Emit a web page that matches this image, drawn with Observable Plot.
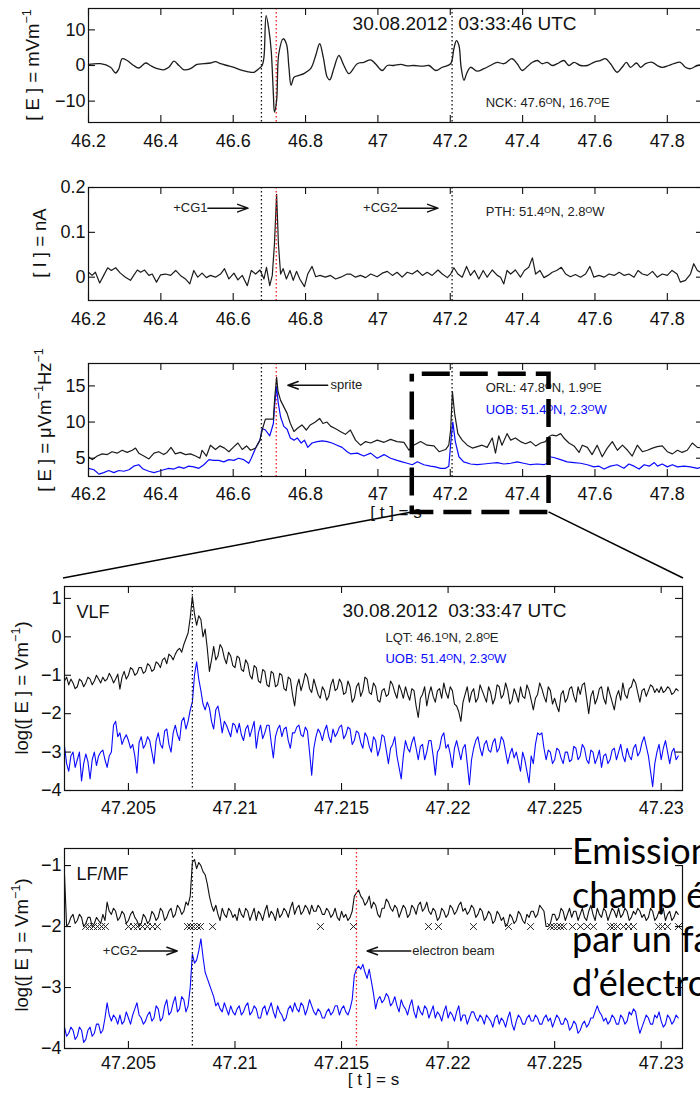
<!DOCTYPE html>
<html>
<head>
<meta charset="utf-8">
<script src="https://cdn.jsdelivr.net/npm/d3@7"></script>
<script src="https://cdn.jsdelivr.net/npm/@observablehq/plot@0.6"></script>
<style>
  html, body { margin: 0; padding: 0; width: 700px; height: 1099px; overflow: hidden; background: #fff; }
  #page { position: relative; width: 700px; height: 1099px; overflow: hidden; font-family: "Liberation Sans", Arial, sans-serif; color: #111; }
  .ylab { position: absolute; white-space: nowrap; font-size: 18.5px; line-height: 1; color: #111;
          transform: translate(-50%, -50%) rotate(-90deg); }
  .ylab sup { font-size: 0.68em; vertical-align: 0; position: relative; top: -0.6em; line-height: 0; }
  #mask { position: absolute; left: 572px; top: 840px; width: 128px; height: 25px; background: #fff; z-index: 9; }
  #note { position: absolute; left: 572px; top: 828px; z-index: 10; font-family: Lato, "Open Sans", sans-serif;
          font-size: 36px; line-height: 44px; color: #000; white-space: nowrap; }
</style>
</head>
<body>
<div id="page">
  <div class="ylab" style="left:33px; top:65px">[ E ] = mVm<sup>−1</sup></div>
  <div class="ylab" style="left:40px; top:243px">[ I ] = nA</div>
  <div class="ylab" style="left:45px; top:420px">[ E ] = μVm<sup>−1</sup>Hz<sup>−1</sup></div>
  <div class="ylab" style="left:22px; top:688px">log([ E ] = Vm<sup>−1</sup>)</div>
  <div class="ylab" style="left:22px; top:945px">log([ E ] = Vm<sup>−1</sup>)</div>
  <div id="mask"></div>
  <div id="note">Emission du<br>champ électrique<br>par un faisceau<br>d’électrons</div>
</div>
<script>
// ---------- Tick values ----------
const coarseTicks = [46.2, 46.4, 46.6, 46.8, 47, 47.2, 47.4, 47.6, 47.8];
const fineTicks = [47.205, 47.21, 47.215, 47.22, 47.225, 47.23];
const nckTicks = [-10, 0, 10];
const pthTicks = [0, 0.1, 0.2];
const orlTicks = [5, 10, 15];
const vlfTicks = [-4, -3, -2, -1, 0, 1];
const lfTicks = [-4, -3, -2, -1];

// ---------- NCK vertical electric field (mV/m) ----------
const nckT = [46.200,46.233,46.261,46.275,46.284,46.293,46.307,46.325,46.339,46.358,
  46.371,46.390,46.408,46.422,46.436,46.450,46.464,46.482,46.500,46.519,
  46.537,46.551,46.565,46.583,46.602,46.620,46.639,46.657,46.671,46.680,
  46.685,46.691,46.699,46.705,46.711,46.714,46.720,46.726,46.738,46.747,
  46.754,46.760,46.768,46.782,46.795,46.814,46.828,46.839,46.849,46.860,
  46.867,46.878,46.892,46.906,46.920,
  46.943,46.961,46.980,46.993,47.012,47.026,47.044,47.063,47.081,47.100,
  47.123,47.141,47.160,47.178,47.201,47.210,47.217,47.224,47.230,47.238,
  47.245,47.256,47.274,47.293,47.311,47.330,47.348,47.371,47.385,47.399,
  47.413,47.427,47.441,47.454,47.468,47.482,47.496,47.514,47.528,47.542,
  47.560,47.579,47.597,47.615,47.629,47.643,47.661,47.675,47.687,47.698,
  47.715,47.726,47.740,47.758,47.772,47.786,47.804,47.818,47.836,47.850,
  47.864,47.883,47.900];
const nckE = [0.3,0.5,-0.5,-2.1,-0.9,1.9,1.4,0,-0.7,0.7,
  0,-0.9,-1.2,-0.5,1.2,0,-1.2,-0.9,0.3,0.5,
  0.7,1.1,0.5,0,-0.5,-1.2,-1.7,-1.9,-0.9,0,
  2.3,14.0,9.8,4.2,-7.9,-13.1,-9.8,3.3,7.5,6.1,
  -0.5,-5.6,-3.3,-2.8,-2.3,-0.9,2.8,6.1,2.3,-3.3,
  -4.0,-0.9,2.8,0,-2.3,
  0.5,0.9,1.6,0.5,-1.4,0,0,0.3,-0.1,0,
  -0.2,0,-1.4,-0.5,0.5,4.7,7.0,5.6,-0.5,-4.2,
  -2.3,-0.5,-1.6,-0.9,0,0.9,0.5,1.9,0.5,-1.4,
  -0.3,0.9,1.4,0.5,0.9,0,0.5,1.4,0,0.9,
  0,0,0.9,1.4,1.9,0.5,-1.9,-0.5,0.9,-0.5,
  0.7,-0.5,0.5,0.9,0,-0.5,0,0.5,0.9,-0.5,
  -0.9,0,0.2];

// ---------- PTH current moment (nA) ----------
const pthT = [46.200,46.210,46.219,46.231,46.242,46.253,46.263,46.275,46.288,46.302,
  46.316,46.325,46.335,46.344,46.355,46.367,46.376,46.388,46.399,46.413,
  46.427,46.441,46.454,46.468,46.480,46.491,46.502,46.514,46.526,46.537,
  46.551,46.565,46.576,46.588,46.602,46.613,46.625,46.639,46.650,46.662,
  46.674,46.685,46.692,46.701,46.708,46.714,46.720,46.725,46.731,46.738,
  46.747,46.757,46.766,46.775,46.784,46.797,46.806,46.818,46.828,46.840,
  46.855,46.869,46.883,46.897,46.915,
  46.924,46.938,46.952,46.966,46.980,46.998,47.012,47.026,47.040,47.053,
  47.067,47.081,47.095,47.109,47.123,47.136,47.150,47.166,47.178,47.192,
  47.201,47.210,47.221,47.233,47.245,47.256,47.267,47.279,47.291,47.302,
  47.316,47.330,47.339,47.348,47.357,47.367,47.380,47.394,47.405,47.417,
  47.427,47.436,47.448,47.459,47.470,47.482,47.494,47.507,47.519,47.532,
  47.546,47.560,47.574,47.586,47.597,47.611,47.625,47.639,47.653,47.667,
  47.681,47.694,47.708,47.719,47.731,47.745,47.759,47.772,47.786,47.800,
  47.813,47.827,47.836,47.850,47.864,47.873,47.883,47.900];
const pthI = [0.011,0.004,0.011,-0.013,0.004,0.021,0.015,0.021,0.009,0,
  -0.007,0.004,0.016,0.011,0.016,0.004,0.007,-0.011,0.005,0.007,
  0.004,0.015,0.004,-0.004,-0.015,0.015,0,0.009,-0.001,0.004,
  0,0.007,0.019,-0.004,0.009,-0.006,0.004,-0.019,0.015,0.007,
  0.016,-0.004,0.022,-0.019,0.004,0.074,0.185,0.074,0.007,0.019,
  -0.004,0.015,-0.007,0.013,-0.004,-0.021,0.007,0.024,0.001,0.004,
  0,0.004,-0.004,0,0.007,
  0.007,0,0.004,-0.001,0.007,0.001,0.009,0.013,0.004,0.011,
  0,0.011,0.007,0.015,0.004,0.011,0.004,0.016,0.007,-0.001,
  0.007,0.021,0.007,0,0.024,0.004,0.015,-0.004,0.015,0,
  0.016,0.004,0,-0.015,0.015,0.007,0.016,0,0.015,0.022,
  0.043,0.007,0.015,-0.001,0.004,0.011,0.015,0.022,0.007,0.001,
  0.006,0,0.007,0.024,0,0.004,0,0.007,0.004,0.011,
  0.004,0.007,0,0.015,0.007,0.004,0.013,0,0.007,0.004,
  0.015,0.007,-0.011,-0.007,0.007,0.030,0.015,0.007];

// ---------- ORL spectral field (µV/m/Hz) ----------
const orlT = [46.200,46.210,46.224,46.238,46.252,46.265,46.279,46.293,46.307,46.321,
  46.330,46.339,46.353,46.367,46.381,46.394,46.408,46.417,46.428,46.440,
  46.454,46.468,46.482,46.496,46.508,46.514,46.526,46.537,46.551,46.563,
  46.576,46.588,46.600,46.613,46.625,46.637,46.648,46.662,46.674,46.680,
  46.689,46.701,46.711,46.715,46.720,46.724,46.731,46.740,46.749,46.758,
  46.768,46.777,46.790,46.802,46.813,46.827,46.839,46.848,46.859,46.870,
  46.882,46.896,46.910,46.924,
  46.938,46.952,46.966,46.980,46.998,47.017,47.035,47.053,47.072,47.086,
  47.099,47.118,47.136,47.155,47.169,47.187,47.196,47.201,47.206,47.212,
  47.221,47.233,47.247,47.261,47.275,47.288,47.302,47.316,47.325,47.334,
  47.343,47.357,47.367,47.380,47.394,47.408,47.422,47.436,47.450,47.463,
  47.473,47.482,47.494,47.505,47.514,47.528,47.542,47.556,47.565,47.579,
  47.592,47.606,47.620,47.634,47.648,47.662,47.676,47.690,47.703,47.717,
  47.731,47.745,47.759,47.772,47.786,47.800,47.814,47.828,47.841,47.855,
  47.869,47.883,47.900];
const orlE = [5.2,4.8,5.3,5.6,5.5,5.9,5.7,6.1,5.8,6.1,
  6.4,5.7,5.3,4.9,5.7,5.9,5.5,5.8,6.5,5.6,
  5.8,5.5,5.6,5.3,5.0,6.1,5.3,6.8,6.2,6.7,
  6.4,5.9,6.5,7.1,6.2,6.7,6.1,6.4,7.5,8.9,
  10.4,10.4,10.4,13.5,16.2,14.2,13.0,12.1,11.2,9.8,
  8.7,9.1,9.6,8.9,9.6,10.0,10.5,9.8,10.0,9.4,
  9.1,8.7,8.3,8.9,
  7.5,6.8,7.3,7.1,7.5,7.2,7.6,7.3,7.2,6.1,
  6.8,7.3,6.8,6.7,5.9,6.2,6.8,8.9,14.2,11.2,
  8.4,7.5,6.8,6.4,6.6,6.8,6.5,7.8,5.7,8.1,
  6.8,8.4,7.5,7.8,7.3,7.0,7.3,6.7,7.1,7.3,
  8.0,8.2,8.1,8.4,7.8,7.1,6.7,5.8,6.8,6.5,
  5.5,6.8,5.2,6.4,7.3,6.1,6.8,6.1,5.3,6.8,
  5.9,6.1,6.4,6.6,6.7,5.9,5.6,6.1,5.8,6.1,
  7.1,6.5,6.4];

// ---------- UOB spectral field (µV/m/Hz) ----------
const uobT = [46.200,46.215,46.229,46.242,46.256,46.270,46.284,46.298,46.312,46.325,
  46.339,46.351,46.367,46.381,46.394,46.408,46.422,46.436,46.450,46.464,
  46.477,46.491,46.505,46.519,46.533,46.546,46.560,46.574,46.588,46.602,
  46.615,46.629,46.643,46.650,46.662,46.674,46.680,46.689,46.701,46.711,
  46.715,46.720,46.724,46.731,46.740,46.749,46.758,46.768,46.777,46.788,
  46.797,46.806,46.818,46.832,46.846,46.860,46.873,46.887,46.901,46.915,
  46.924,
  46.943,46.961,46.980,46.998,47.017,47.035,47.053,47.067,47.081,47.095,
  47.109,47.127,47.145,47.159,47.173,47.187,47.196,47.202,47.207,47.214,
  47.224,47.237,47.256,47.274,47.293,47.311,47.330,47.348,47.367,47.385,
  47.403,47.422,47.440,47.459,47.468,47.475,47.486,47.505,47.523,47.542,
  47.560,47.579,47.597,47.611,47.625,47.643,47.661,47.680,47.694,47.708,
  47.722,47.736,47.750,47.764,47.773,47.786,47.800,47.814,47.828,47.846,
  47.864,47.883,47.900];
const uobE = [3.6,3.4,2.8,3.0,3.3,3.0,3.3,3.2,3.4,3.9,
  4.1,3.5,3.2,3.0,3.2,3.4,3.6,3.5,3.8,3.6,
  3.9,3.8,3.6,4.1,4.8,4.7,4.7,4.5,4.8,4.7,
  5.0,4.8,4.3,5.0,6.4,7.5,9.1,8.9,8.1,9.8,
  12.6,14.9,12.8,10.7,9.4,9.0,7.8,7.5,7.8,7.1,
  7.5,6.5,7.1,7.3,7.4,7.3,7.1,6.8,6.5,5.9,
  5.6,
  5.7,5.3,5.7,5.0,5.5,5.0,4.7,4.5,4.3,4.1,
  4.5,4.1,3.9,3.8,3.6,3.6,3.9,7.5,10.0,7.3,
  5.2,4.5,4.2,4.1,4.2,4.3,4.4,4.2,4.3,4.5,
  4.3,4.1,4.2,4.1,4.3,5.2,5.1,4.8,4.5,4.4,
  4.3,4.1,3.8,3.9,3.5,3.9,4.1,3.6,4.2,3.9,
  3.5,4.1,3.9,4.4,3.9,4.2,3.8,4.1,3.8,3.9,
  3.8,3.6,3.8];

// ---------- Fine-resolution records, sampled every 0.1 ms from 47.202 s ----------
const fineStart = 47.202;
const fineStep = 0.0001;

// VLF, LQT (black) and UOB (blue), log10 of field in V/m
const vlfLqt = [
  -1.15,-1.05,-1.25,-1.1,-1.2,-1.35,-1.3,-1.1,-1.15,-1.3,-1.2,-1.05,-1.1,-1.25,-1.15,-1.0,-1.1,-1.2,-1.05,-1.15,
  -1.1,-0.95,-1.05,-1.2,-1.1,-0.97,-1.36,-1.05,-0.9,-1.1,-1.0,-0.8,-0.85,-1.0,-0.95,-0.8,-0.8,-0.95,-0.9,-0.7,
  -0.75,-0.9,-0.85,-0.65,-0.7,-0.8,-0.6,-0.55,-0.7,-0.45,-0.5,-0.6,-0.45,-0.35,-0.3,-0.4,-0.2,-0.05,0.1,0.5,
  1.05,0.6,0.3,0.55,0.45,0.0,0.2,-0.3,-0.9,-0.6,-0.25,-0.6,-0.5,-0.2,-0.3,-0.55,-0.7,-0.4,-0.5,-0.75,
  -0.8,-0.5,-0.55,-0.85,-0.9,-0.6,-0.7,-1.0,-1.1,-0.75,-0.8,-1.15,-1.2,-0.85,-0.9,-1.25,-1.3,-0.9,-0.95,-1.3,
  -1.25,-0.95,-1.0,-1.35,-1.4,-1.05,-1.1,-1.5,-1.8,-1.3,-1.1,-1.4,-1.2,-0.95,-1.05,-1.35,-1.45,-1.1,-1.3,-1.5,
  -1.6,-1.3,-1.4,-1.65,-1.55,-1.25,-1.1,-1.4,-1.35,-1.1,-1.2,-1.5,-1.45,-1.15,-1.3,-1.7,-1.6,-1.3,-1.2,-1.55,
  -1.4,-1.05,-1.1,-1.45,-1.5,-1.2,-1.3,-1.65,-1.7,-1.4,-1.35,-1.55,-1.5,-1.15,-1.25,-1.45,-1.6,-1.25,-1.4,-1.6,
  -1.3,-1.5,-1.65,-1.35,-1.4,-1.8,-2.1,-1.6,-1.5,-1.3,-1.8,-1.5,-1.3,-1.55,-1.7,-1.4,-1.35,-1.6,-1.2,-1.45,
  -1.6,-1.3,-1.4,-1.75,-1.8,-1.95,-2.2,-1.7,-1.5,-1.3,-1.7,-1.45,-1.35,-1.7,-1.6,-1.25,-1.4,-1.55,-1.7,-1.3,
  -1.45,-1.75,-1.6,-1.25,-1.3,-1.6,-1.5,-1.2,-1.4,-1.75,-1.65,-1.35,-1.5,-1.7,-1.3,-1.55,-1.6,-1.25,-1.4,-1.65,
  -1.9,-1.6,-1.5,-1.2,-1.35,-1.55,-1.7,-1.3,-1.4,-1.75,-1.6,-1.8,-1.95,-1.5,-1.4,-1.7,-1.6,-1.35,-1.3,-1.55,
  -1.7,-1.3,-1.5,-1.25,-1.2,-1.6,-2.0,-1.55,-1.4,-1.75,-1.6,-1.35,-1.3,-1.6,-1.75,-1.3,-1.5,-1.7,-1.9,-1.55,
  -1.4,-1.65,-1.2,-1.5,-1.6,-1.35,-1.3,-1.1,-1.2,-1.45,-1.7,-1.4,-1.35,-1.55,-1.4,-1.25,-1.3,-1.45,-1.35,-1.45,
  -1.3,-1.45,-1.4,-1.3,-1.35,-1.5,-1.45,-1.35,-1.4];
const vlfUob = [
  -2.85,-3.3,-3.5,-3.1,-3.0,-3.4,-3.2,-3.0,-3.75,-3.3,-3.05,-3.25,-3.7,-3.2,-3.0,-3.35,-3.1,-3.0,-2.95,-3.2,
  -3.4,-3.1,-3.0,-2.3,-2.2,-2.6,-2.5,-2.8,-2.65,-2.55,-2.7,-2.9,-2.8,-3.1,-3.55,-2.75,-2.6,-2.9,-2.8,-2.6,
  -2.7,-3.0,-3.3,-2.7,-2.5,-2.8,-2.9,-2.45,-2.4,-2.8,-3.0,-2.5,-2.3,-2.55,-2.7,-2.2,-2.1,-2.4,-2.2,-1.9,
  -1.7,-1.0,-0.65,-1.1,-1.4,-1.75,-1.9,-1.7,-1.85,-2.2,-2.4,-1.9,-1.8,-2.1,-2.5,-2.2,-2.3,-2.45,-2.6,-2.25,
  -2.3,-2.5,-2.25,-2.55,-2.7,-2.4,-2.3,-2.6,-2.4,-2.2,-2.9,-2.5,-2.3,-2.65,-2.5,-2.3,-2.3,-2.75,-3.15,-2.6,
  -2.4,-2.3,-2.6,-2.4,-2.35,-2.7,-2.9,-2.5,-2.5,-2.35,-2.3,-2.55,-2.6,-2.35,-2.45,-3.0,-3.6,-2.9,-2.6,-2.4,
  -2.5,-2.7,-2.45,-2.3,-2.6,-2.75,-2.4,-2.6,-2.5,-2.35,-2.3,-2.65,-2.55,-2.35,-2.4,-2.8,-2.7,-2.45,-2.5,-2.75,
  -2.9,-2.5,-2.6,-2.85,-3.0,-2.6,-2.7,-3.1,-2.9,-2.55,-2.6,-2.95,-3.3,-2.9,-2.8,-2.6,-3.1,-3.4,-3.7,-3.1,
  -2.7,-2.9,-3.0,-2.75,-2.6,-2.9,-3.2,-2.85,-2.8,-3.2,-3.0,-2.7,-2.7,-3.1,-3.6,-3.0,-2.9,-2.6,-2.5,-2.9,
  -2.8,-3.05,-3.4,-2.9,-2.7,-2.95,-3.2,-2.9,-2.8,-3.3,-3.85,-3.2,-2.9,-2.7,-2.6,-2.9,-3.1,-2.8,-2.7,-2.95,
  -3.0,-2.75,-2.65,-3.0,-2.9,-2.6,-2.7,-3.0,-3.3,-3.05,-2.9,-3.15,-3.0,-3.25,-3.5,-3.0,-3.2,-3.5,-3.8,-3.1,
  -3.3,-2.8,-2.5,-2.55,-2.5,-2.9,-3.2,-2.95,-3.0,-3.3,-3.2,-2.9,-2.95,-3.15,-3.3,-3.0,-3.0,-3.25,-3.2,-2.85,
  -2.9,-3.2,-3.1,-2.8,-2.9,-3.2,-3.3,-2.95,-3.0,-3.3,-3.15,-2.95,-3.4,-3.1,-3.05,-3.3,-3.2,-2.95,-2.9,-3.2,
  -3.0,-2.8,-3.1,-3.25,-2.9,-3.1,-3.2,-2.9,-2.8,-3.1,-3.0,-2.75,-2.6,-2.85,-3.1,-3.5,-3.9,-3.3,-3.0,-2.8,
  -3.2,-2.9,-2.7,-3.0,-3.3,-3.0,-2.9,-3.2,-3.1];

// LF/MF, LQT (black) and UOB (blue), log10 of field in V/m
const lfLqt = [
  -1.15,-2.0,-1.95,-1.85,-1.8,-1.95,-1.9,-1.8,-1.85,-2.0,-1.95,-1.85,-1.85,-2.0,-1.95,-1.85,-1.9,-1.95,-1.8,-1.9,
  -1.6,-1.75,-1.8,-1.7,-1.75,-1.9,-1.85,-1.75,-1.8,-1.95,-1.9,-1.8,-1.75,-1.85,-1.9,-2.0,-1.95,-1.8,-1.85,-1.95,
  -1.9,-1.75,-1.8,-1.9,-1.85,-1.7,-1.75,-1.9,-1.85,-1.75,-1.7,-1.85,-1.8,-1.65,-1.7,-1.8,-1.75,-1.6,-1.65,-1.5,
  -0.95,-0.9,-1.05,-0.95,-1.0,-1.1,-1.15,-1.3,-1.5,-1.65,-1.75,-1.65,-1.8,-1.9,-1.7,-1.8,-1.85,-1.7,-1.75,-1.85,
  -1.8,-1.9,-1.7,-1.8,-1.85,-1.7,-1.75,-1.9,-1.8,-1.7,-1.9,-1.75,-1.8,-1.9,-1.75,-1.65,-1.85,-1.75,-1.8,-1.9,
  -1.7,-1.85,-1.8,-1.7,-1.75,-1.85,-1.7,-1.6,-1.8,-1.7,-1.65,-1.8,-1.75,-1.65,-1.7,-1.8,-1.65,-1.75,-1.75,-1.65,
  -1.7,-1.8,-1.8,-1.7,-1.75,-1.85,-1.8,-1.7,-1.85,-1.9,-1.75,-1.85,-1.8,-1.9,-1.85,-1.75,-1.5,-1.45,-1.4,-1.5,
  -1.55,-1.65,-1.6,-1.5,-1.7,-1.6,-1.65,-1.8,-1.85,-1.7,-1.7,-1.55,-1.6,-1.7,-1.75,-1.65,-1.7,-1.85,-1.75,-1.65,
  -1.7,-1.85,-1.8,-1.65,-1.7,-1.8,-1.65,-1.6,-1.75,-1.7,-1.6,-1.75,-1.8,-1.7,-1.75,-1.9,-1.85,-1.7,-1.75,-1.85,
  -1.8,-1.65,-1.7,-1.8,-1.75,-1.65,-1.6,-1.75,-1.7,-1.8,-1.75,-1.65,-1.7,-1.85,-1.8,-1.7,-1.75,-1.9,-1.85,-1.75,
  -1.8,-1.95,-1.9,-1.75,-1.8,-1.9,-1.85,-2.0,-1.95,-1.8,-1.85,-1.95,-1.9,-1.75,-1.8,-1.9,-1.95,-1.8,-1.85,-1.75,
  -1.75,-1.85,-1.8,-1.65,-1.7,-1.75,-2.0,-2.0,-1.95,-1.8,-1.8,-1.9,-1.85,-1.7,-1.75,-1.9,-1.8,-1.7,-1.85,-1.75,
  -1.75,-1.9,-1.8,-1.7,-1.85,-1.9,-1.75,-1.65,-1.8,-1.9,-1.7,-1.8,-1.85,-1.7,-1.75,-1.9,-1.8,-1.7,-1.75,-1.85,
  -1.7,-1.85,-1.8,-1.7,-1.75,-1.9,-1.85,-1.75,-1.8,-1.7,-1.75,-1.85,-1.8,-1.9,-1.85,-1.7,-1.75,-1.9,-1.85,-1.75,
  -1.8,-1.7,-1.9,-1.8,-1.75,-1.9,-1.85,-1.75,-1.8];
const lfUob = [
  -3.65,-3.8,-3.75,-3.65,-3.7,-3.85,-3.8,-3.65,-3.7,-3.9,-3.85,-3.7,-3.65,-3.8,-3.75,-3.6,-3.6,-3.75,-3.7,-3.5,
  -3.25,-3.45,-3.55,-3.45,-3.5,-3.6,-3.45,-3.6,-3.55,-3.4,-3.5,-3.6,-3.45,-3.35,-3.25,-3.45,-3.5,-3.6,-3.55,-3.45,
  -3.4,-3.55,-3.5,-3.3,-3.35,-3.55,-3.5,-3.3,-3.2,-3.45,-3.4,-3.25,-3.15,-3.4,-3.35,-3.15,-3.2,-3.4,-3.3,-3.0,
  -2.45,-2.6,-2.55,-2.4,-2.2,-2.5,-2.75,-2.85,-2.95,-3.05,-3.15,-3.3,-3.25,-3.35,-3.4,-3.25,-3.35,-3.45,-3.3,-3.4,
  -3.45,-3.35,-3.3,-3.45,-3.4,-3.3,-3.25,-3.45,-3.4,-3.3,-3.35,-3.5,-3.5,-3.35,-3.3,-3.45,-3.35,-3.25,-3.4,-3.5,
  -3.3,-3.4,-3.45,-3.55,-3.5,-3.35,-3.3,-3.4,-3.25,-3.35,-3.4,-3.25,-3.3,-3.45,-3.35,-3.2,-3.3,-3.4,-3.45,-3.35,
  -3.4,-3.5,-3.5,-3.4,-3.35,-3.45,-3.4,-3.3,-3.3,-3.45,-3.35,-3.3,-3.4,-3.45,-3.35,-3.2,-2.8,-2.7,-2.65,-2.7,
  -2.62,-2.75,-2.85,-2.7,-2.9,-3.1,-3.35,-3.2,-3.15,-3.25,-3.2,-3.1,-3.15,-3.3,-3.25,-3.15,-3.3,-3.4,-3.2,-3.3,
  -3.35,-3.45,-3.3,-3.2,-3.4,-3.5,-3.3,-3.4,-3.45,-3.3,-3.35,-3.5,-3.4,-3.3,-3.5,-3.4,-3.45,-3.55,-3.4,-3.3,
  -3.5,-3.4,-3.45,-3.55,-3.4,-3.3,-3.55,-3.45,-3.45,-3.6,-3.5,-3.4,-3.4,-3.5,-3.55,-3.45,-3.5,-3.6,-3.45,-3.5,
  -3.55,-3.65,-3.5,-3.45,-3.6,-3.5,-3.55,-3.65,-3.5,-3.4,-3.6,-3.7,-3.55,-3.45,-3.5,-3.6,-3.6,-3.5,-3.45,-3.55,
  -3.55,-3.45,-3.5,-3.6,-3.6,-3.5,-3.45,-3.55,-3.5,-3.65,-3.55,-3.45,-3.5,-3.6,-3.6,-3.5,-3.55,-3.7,-3.65,-3.55,
  -3.6,-3.75,-3.7,-3.6,-3.55,-3.65,-3.6,-3.5,-3.5,-3.4,-3.3,-3.4,-3.45,-3.55,-3.5,-3.6,-3.55,-3.45,-3.5,-3.6,
  -3.6,-3.45,-3.5,-3.6,-3.55,-3.4,-3.45,-3.35,-3.4,-3.6,-3.75,-3.65,-3.55,-3.45,-3.5,-3.6,-3.6,-3.45,-3.5,-3.4,
  -3.55,-3.65,-3.6,-3.45,-3.5,-3.6,-3.55,-3.45,-3.5];

// Times of detected pulses, drawn as crosses on the LF/MF panel
const pulseT = [47.20299,47.20317,47.20336,47.20355,47.20374,47.20392,
  47.20500,47.20524,47.20543,47.20566,47.20589,47.20613,47.20636,
  47.20777,47.20791,47.20805,47.20824,47.20838,47.20895,47.21401,
  47.21556,47.21908,47.21955,47.22119,47.22284,47.22387,
  47.22481,47.22495,47.22513,47.22528,47.22542,
  47.22584,47.22621,47.22654,47.22682,
  47.22762,47.22776,47.22795,47.22823,47.22847,47.22870,
  47.22987,47.23006,47.23030,47.23081];
const pulseLevel = -2;

// Event times (s)
const cg1Time = 46.678, spriteTime = 46.719, cg2Time = 47.205;
const cg2FineTime = 47.208, beamTime = 47.2157;

// Zoomed interval, drawn as a dashed box on the ORL/UOB panel
const zoomBox = [{t1: 47.095, t2: 47.473, e1: -2.5, e2: 16.6}];

// ---------- helpers ----------
const fmt = d3.format("~g");
const pairs = (xs, ys) => xs.map((x, i) => ({x, y: ys[i]}));
const fineRows = ys => ys.map((y, i) => ({x: fineStart + i * fineStep, y}));
const INK = "#111";
const BLUE = "#0a0aff";
const RED = "#ff1a1a";
const DOT = "1.4,2.6";

const page = document.getElementById("page");

function panel({top, width, height, mt, mb, ml, mr, xDomain, yDomain, xTicks, yTicks, xPad, marks}) {
  const fw = width - ml - mr, fh = height - mt - mb;
  const chart = Plot.plot({
    width, height, marginTop: mt, marginBottom: mb, marginLeft: ml, marginRight: mr,
    x: {domain: xDomain, label: null},
    y: {domain: yDomain, label: null},
    style: {background: "transparent", fontFamily: '"Liberation Sans", Arial, sans-serif',
            fontSize: "18px", color: INK, maxWidth: "none", overflow: "visible"},
    marks: [
      ...marks,
      Plot.frame({stroke: INK, strokeWidth: 1.2}),
      Plot.tickX(xTicks, {x: d => d, insetTop: fh - 7, stroke: INK, strokeWidth: 1.1}),
      Plot.tickX(xTicks, {x: d => d, insetBottom: fh - 7, stroke: INK, strokeWidth: 1.1}),
      Plot.tickY(yTicks, {y: d => d, insetRight: fw - 7, stroke: INK, strokeWidth: 1.1}),
      Plot.tickY(yTicks, {y: d => d, insetLeft: fw - 7, stroke: INK, strokeWidth: 1.1}),
      Plot.axisX({ticks: xTicks, tickSize: 0, tickPadding: xPad, tickFormat: fmt, label: null}),
      Plot.axisY({ticks: yTicks, tickSize: 0, tickPadding: 3, tickFormat: fmt, label: null})
    ]
  });
  chart.style.position = "absolute";
  chart.style.left = "0px";
  chart.style.top = top + "px";
  page.appendChild(chart);
  return chart;
}

const note = (t, v, s, extra = {}) =>
  Plot.text([s], {x: () => t, y: () => v, text: d => d, textAnchor: "start", fontSize: 13, fill: "#222", ...extra});
const arrow = (t1, t2, v) =>
  Plot.arrow([0], {x1: () => t1, x2: () => t2, y1: () => v, y2: () => v,
                   stroke: INK, strokeWidth: 1.5, headLength: 11, headAngle: 40});

// Panel 1: NCK E-field
panel({
  top: 0, width: 705, height: 164, mt: 8, mb: 42, ml: 88, mr: 2,
  xDomain: [46.2, 47.9], yDomain: [-16, 16], xTicks: coarseTicks, yTicks: nckTicks, xPad: 12,
  marks: [
    Plot.ruleX([cg1Time, cg2Time], {x: d => d, stroke: INK, strokeDasharray: DOT, strokeWidth: 1.3}),
    Plot.ruleX([spriteTime], {x: d => d, stroke: RED, strokeDasharray: DOT, strokeWidth: 1.3}),
    Plot.line(pairs(nckT, nckE), {x: "x", y: "y", stroke: "#1c1c1c", strokeWidth: 1.3, curve: "catmull-rom"}),
    note(46.93, 11.8, "30.08.2012  03:33:46 UTC", {fontSize: 19, fill: INK}),
    note(47.298, -10.6, "NCK: 47.6ᴼN, 16.7ᴼE")
  ]
});

// Panel 2: PTH current
panel({
  top: 170, width: 705, height: 172, mt: 17, mb: 42, ml: 88, mr: 2,
  xDomain: [46.2, 47.9], yDomain: [-0.052, 0.2], xTicks: coarseTicks, yTicks: pthTicks, xPad: 12,
  marks: [
    Plot.ruleX([cg1Time, cg2Time], {x: d => d, stroke: INK, strokeDasharray: DOT, strokeWidth: 1.3}),
    Plot.line(pairs(pthT, pthI), {x: "x", y: "y", stroke: "#1c1c1c", strokeWidth: 1.2}),
    Plot.ruleX([spriteTime], {x: d => d, stroke: RED, strokeDasharray: DOT, strokeWidth: 1.3}),
    note(46.529, 0.154, "+CG1", {textAnchor: "end"}),
    arrow(46.530, 46.641, 0.154),
    note(47.054, 0.154, "+CG2", {textAnchor: "end"}),
    arrow(47.055, 47.166, 0.154),
    note(47.298, 0.145, "PTH: 51.4ᴼN, 2.8ᴼW")
  ]
});

// Panel 3: ORL / UOB spectral field
const p3 = panel({
  top: 340, width: 705, height: 186, mt: 23, mb: 50, ml: 88, mr: 2,
  xDomain: [46.2, 47.9], yDomain: [2.47, 18.1], xTicks: coarseTicks, yTicks: orlTicks, xPad: 11,
  marks: [
    Plot.ruleX([cg1Time, cg2Time], {x: d => d, stroke: INK, strokeDasharray: DOT, strokeWidth: 1.3}),
    Plot.ruleX([spriteTime], {x: d => d, stroke: RED, strokeDasharray: DOT, strokeWidth: 1.3}),
    Plot.line(pairs(uobT, uobE), {x: "x", y: "y", stroke: BLUE, strokeWidth: 1.2}),
    Plot.line(pairs(orlT, orlE), {x: "x", y: "y", stroke: "#1c1c1c", strokeWidth: 1.2}),
    arrow(46.861, 46.751, 15.1),
    note(46.869, 15.1, "sprite"),
    note(47.298, 14.7, "ORL: 47.8ᴼN, 1.9ᴼE"),
    note(47.298, 11.66, "UOB: 51.4ᴼN, 2.3ᴼW", {fill: BLUE}),
    Plot.text(["[ t ] = s"], {frameAnchor: "bottom", dy: 41, text: d => d, fontSize: 17, fill: INK}),
    Plot.rect(zoomBox, {x1: "t1", x2: "t2", y1: "e1", y2: "e2", fill: "none", stroke: "#000",
                        strokeWidth: 4.5, strokeDasharray: "28,10", strokeDashoffset: 28})
  ]
});

// Panel 4: VLF
const p4 = panel({
  top: 575, width: 700, height: 255, mt: 11, mb: 40, ml: 64, mr: 18,
  xDomain: [47.202, 47.231], yDomain: [-4, 1.31], xTicks: fineTicks, yTicks: vlfTicks, xPad: 11,
  marks: [
    Plot.line(fineRows(vlfUob), {x: "x", y: "y", stroke: BLUE, strokeWidth: 1.1}),
    Plot.line(fineRows(vlfLqt), {x: "x", y: "y", stroke: "#111", strokeWidth: 1.1}),
    Plot.ruleX([cg2FineTime], {x: d => d, stroke: INK, strokeDasharray: DOT, strokeWidth: 1.3}),
    note(47.20256, 0.65, "VLF", {fontSize: 18, fill: INK}),
    note(47.21505, 0.68, "30.08.2012  03:33:47 UTC", {fontSize: 19, fill: INK}),
    note(47.21706, -0.03, "LQT: 46.1ᴼN, 2.8ᴼE"),
    note(47.21706, -0.57, "UOB: 51.4ᴼN, 2.3ᴼW", {fill: BLUE})
  ]
});

// Panel 5: LF/MF
panel({
  top: 835, width: 700, height: 265, mt: 13, mb: 52, ml: 64, mr: 18,
  xDomain: [47.202, 47.231], yDomain: [-4, -0.72], xTicks: fineTicks, yTicks: lfTicks, xPad: 8,
  marks: [
    Plot.line(fineRows(lfUob), {x: "x", y: "y", stroke: BLUE, strokeWidth: 1.1}),
    Plot.line(fineRows(lfLqt), {x: "x", y: "y", stroke: "#111", strokeWidth: 1.1}),
    Plot.dot(pulseT, {x: d => d, y: () => pulseLevel, symbol: "times", r: 3.2, stroke: "#222", strokeWidth: 1}),
    Plot.ruleX([cg2FineTime], {x: d => d, stroke: INK, strokeDasharray: DOT, strokeWidth: 1.3}),
    Plot.ruleX([beamTime], {x: d => d, stroke: RED, strokeDasharray: DOT, strokeWidth: 1.3}),
    note(47.20256, -1.135, "LF/MF", {fontSize: 18, fill: INK}),
    note(47.20541, -2.4, "+CG2", {textAnchor: "end"}),
    arrow(47.20542, 47.20729, -2.4),
    arrow(47.21825, 47.21620, -2.4),
    note(47.21832, -2.4, "electron beam"),
    Plot.text(["[ t ] = s"], {frameAnchor: "bottom", dy: 36, text: d => d, fontSize: 17, fill: INK})
  ]
});

// Connectors from the dashed box to the zoomed panel below
const x3 = p3.scale("x"), y3 = p3.scale("y"), x4 = p4.scale("x");
const box = zoomBox[0];
const boxBottom = 340 + y3.apply(box.e1);
const zoomTop = 578;
const overlay = d3.select(page).append("svg")
  .attr("width", 700).attr("height", 1099)
  .style("position", "absolute").style("left", 0).style("top", 0).style("pointer-events", "none");
overlay.selectAll("line")
  .data([[x3.apply(box.t1), x4.range[0] - 1], [x3.apply(box.t2), x4.range[1] + 1]])
  .join("line")
  .attr("x1", d => d[0]).attr("y1", boxBottom)
  .attr("x2", d => d[1]).attr("y2", zoomTop)
  .attr("stroke", "#000").attr("stroke-width", 1.5);
</script>
</body>
</html>
